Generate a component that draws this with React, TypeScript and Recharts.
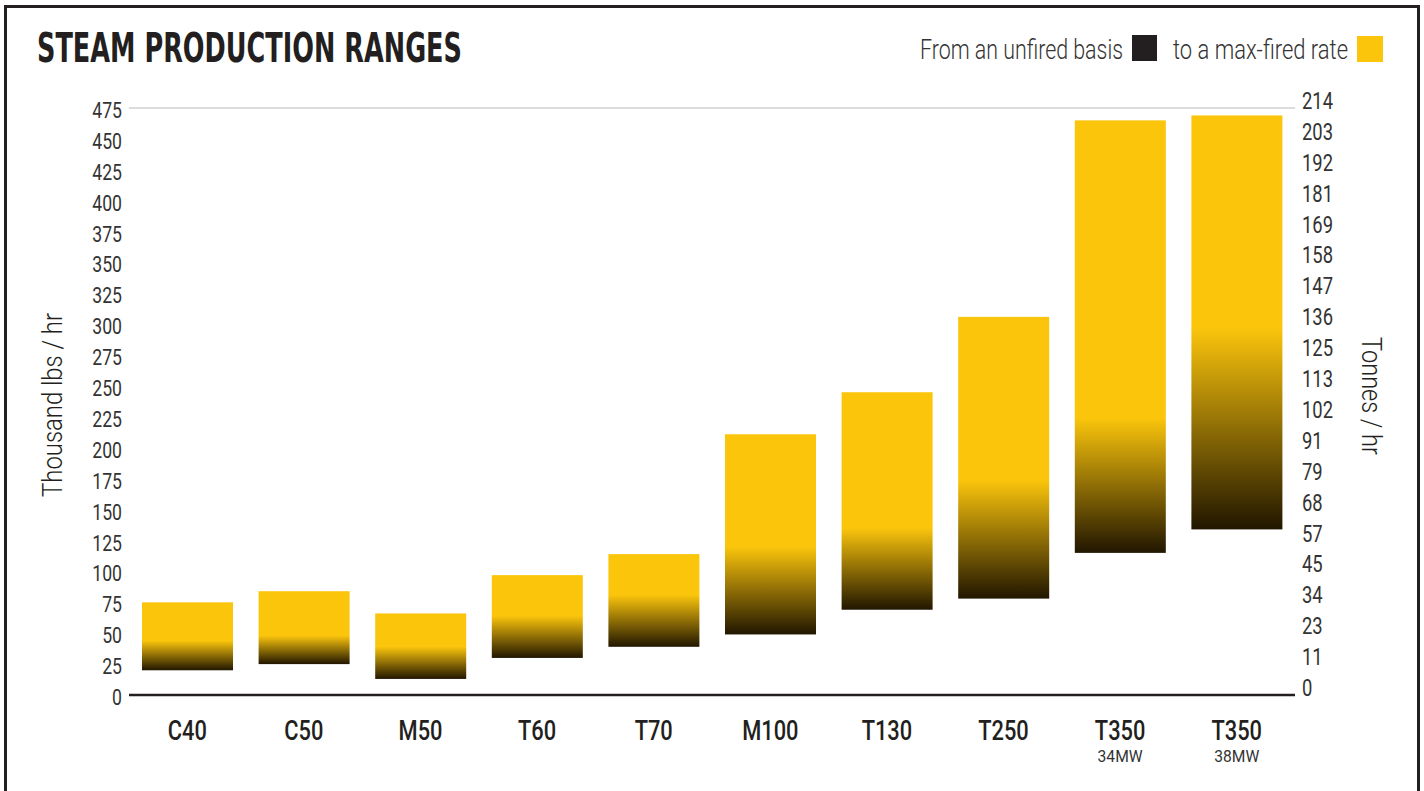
import { ComposedChart, Bar, Line, XAxis, YAxis, CartesianGrid } from "recharts";

const models = ["C40", "C50", "M50", "T60", "T70", "M100", "T130", "T250", "T350", "T350"];
const subLabels = ["", "", "", "", "", "", "", "", "34MW", "38MW"];
// thousand lbs/hr: unfired basis (low) to max-fired rate (high)
const unfired = [20, 25, 13, 30, 39, 49, 69, 78, 115, 134];
const maxFired = [75, 84, 66, 97, 114, 211, 245, 306, 465, 469];
// value where the bar turns fully yellow
const blendTop = [44, 48, 39, 64, 81, 120, 135, 174, 224, 297];

const lbsTicks = [0, 25, 50, 75, 100, 125, 150, 175, 200, 225, 250, 275, 300, 325, 350, 375, 400, 425, 450, 475];
const tonneLabels = ["0", "11", "23", "34", "45", "57", "68", "79", "91", "102", "113", "125", "136", "147", "158", "169", "181", "192", "203", "214"];

const YELLOW = "#FBC50C";
const DARK = "#211600";
const INK = "#231f20";
const FONT = "Roboto, 'DejaVu Sans', sans-serif";
const TITLE_FONT = "'DejaVu Sans Condensed', 'DejaVu Sans', sans-serif";

const data = models.map((name, i) => ({
  name,
  sub: subLabels[i],
  range: [unfired[i], maxFired[i]],
  high: maxFired[i],
  blend: blendTop[i],
}));

function GradientBar(props: any) {
  const { x, y, width, height, index, payload } = props;
  if (!height || height <= 0) return null;
  const [lo, hi] = payload.range;
  const off = (hi - payload.blend) / (hi - lo);
  const id = `steamGrad${index}`;
  return (
    <g>
      <defs>
        <linearGradient id={id} x1="0" y1="0" x2="0" y2="1">
          <stop offset={0} stopColor={YELLOW} />
          <stop offset={off} stopColor={YELLOW} />
          <stop offset={1} stopColor={DARK} />
        </linearGradient>
      </defs>
      <rect x={x} y={y} width={width} height={height} fill={`url(#${id})`} />
    </g>
  );
}

// condensed-looking text: squeeze glyphs horizontally
function Narrow({ x, y, sx, size, weight = 400, anchor = "start", fill = "#333", children }: any) {
  return (
    <text
      transform={`translate(${x},${y}) scale(${sx},1)`}
      textAnchor={anchor}
      fontFamily={FONT}
      fontSize={size}
      fontWeight={weight}
      fill={fill}
    >
      {children}
    </text>
  );
}

function ModelTick(props: any) {
  const { x, y, payload } = props;
  const sub = subLabels[payload.index];
  return (
    <g>
      <Narrow x={x} y={y + 37} sx={0.78} size={28} weight={500} anchor="middle" fill={INK}>
        {payload.value}
      </Narrow>
      {sub && (
        <Narrow x={x} y={y + 59} sx={0.92} size={17} anchor="middle">
          {sub}
        </Narrow>
      )}
    </g>
  );
}

function LbsTick(props: any) {
  const { x, y, payload } = props;
  return (
    <Narrow x={x} y={y + 10} sx={0.8} size={22} anchor="end">
      {payload.value}
    </Narrow>
  );
}

function TonneTick(props: any) {
  const { x, y, payload } = props;
  return (
    <Narrow x={x} y={y + 1} sx={0.8} size={23} anchor="start">
      {tonneLabels[payload.index]}
    </Narrow>
  );
}

export default function App() {
  return (
    <div style={{ position: "absolute", left: 0, top: 0, width: 1424, height: 791, background: "#fff", overflow: "hidden" }}>
      <ComposedChart
        width={1424}
        height={791}
        data={data}
        margin={{ top: 108, right: 49, bottom: 36, left: 49 }}
      >
        <CartesianGrid horizontal vertical={false} stroke="#d2d2d2" strokeWidth={1.6} />
        <XAxis
          dataKey="name"
          height={60}
          tickLine={false}
          axisLine={{ stroke: INK, strokeWidth: 2.5 }}
          tick={<ModelTick />}
          interval={0}
        />
        <YAxis
          yAxisId="lbs"
          width={80}
          domain={[0, 475]}
          ticks={lbsTicks}
          interval={0}
          axisLine={false}
          tickLine={false}
          tickSize={0}
          tickMargin={7}
          tick={<LbsTick />}
        />
        <YAxis
          yAxisId="tonnes"
          orientation="right"
          width={80}
          domain={[0, 475]}
          ticks={lbsTicks}
          interval={0}
          axisLine={false}
          tickLine={false}
          tickSize={0}
          tickMargin={7}
          tick={<TonneTick />}
        />
        <Bar yAxisId="lbs" dataKey="range" barSize={91} shape={<GradientBar />} isAnimationActive={false} />
        <Line
          yAxisId="tonnes"
          dataKey="high"
          stroke="none"
          dot={false}
          activeDot={false}
          legendType="none"
          isAnimationActive={false}
        />
      </ComposedChart>
      <svg width={1424} height={791} style={{ position: "absolute", left: 0, top: 0, pointerEvents: "none" }}>
        <rect x={5.5} y={6.5} width={1413} height={900} fill="none" stroke={INK} strokeWidth={3} />
        <text x={37} y={62} fontFamily={TITLE_FONT} fontWeight="bold" fontSize={40} fill={INK} textLength={425} lengthAdjust="spacingAndGlyphs">
          STEAM PRODUCTION RANGES
        </text>
        <text x={920} y={59} fontFamily={FONT} fontWeight={300} fontSize={27} fill="#333" textLength={203} lengthAdjust="spacingAndGlyphs">
          From an unfired basis
        </text>
        <rect x={1132} y={35} width={25} height={26} fill={INK} />
        <text x={1173} y={59} fontFamily={FONT} fontWeight={300} fontSize={27} fill="#333" textLength={175} lengthAdjust="spacingAndGlyphs">
          to a max-fired rate
        </text>
        <rect x={1357} y={36} width={26} height={26} fill={YELLOW} />
        <text
          transform="translate(62,405) rotate(-90)"
          textAnchor="middle"
          fontFamily={FONT}
          fontWeight={300}
          fontSize={28}
          fill={INK}
          textLength={184}
          lengthAdjust="spacingAndGlyphs"
        >
          Thousand lbs / hr
        </text>
        <text
          transform="translate(1362,396) rotate(90)"
          textAnchor="middle"
          fontFamily={FONT}
          fontWeight={300}
          fontSize={28}
          fill={INK}
          textLength={118}
          lengthAdjust="spacingAndGlyphs"
        >
          Tonnes / hr
        </text>
      </svg>
    </div>
  );
}
